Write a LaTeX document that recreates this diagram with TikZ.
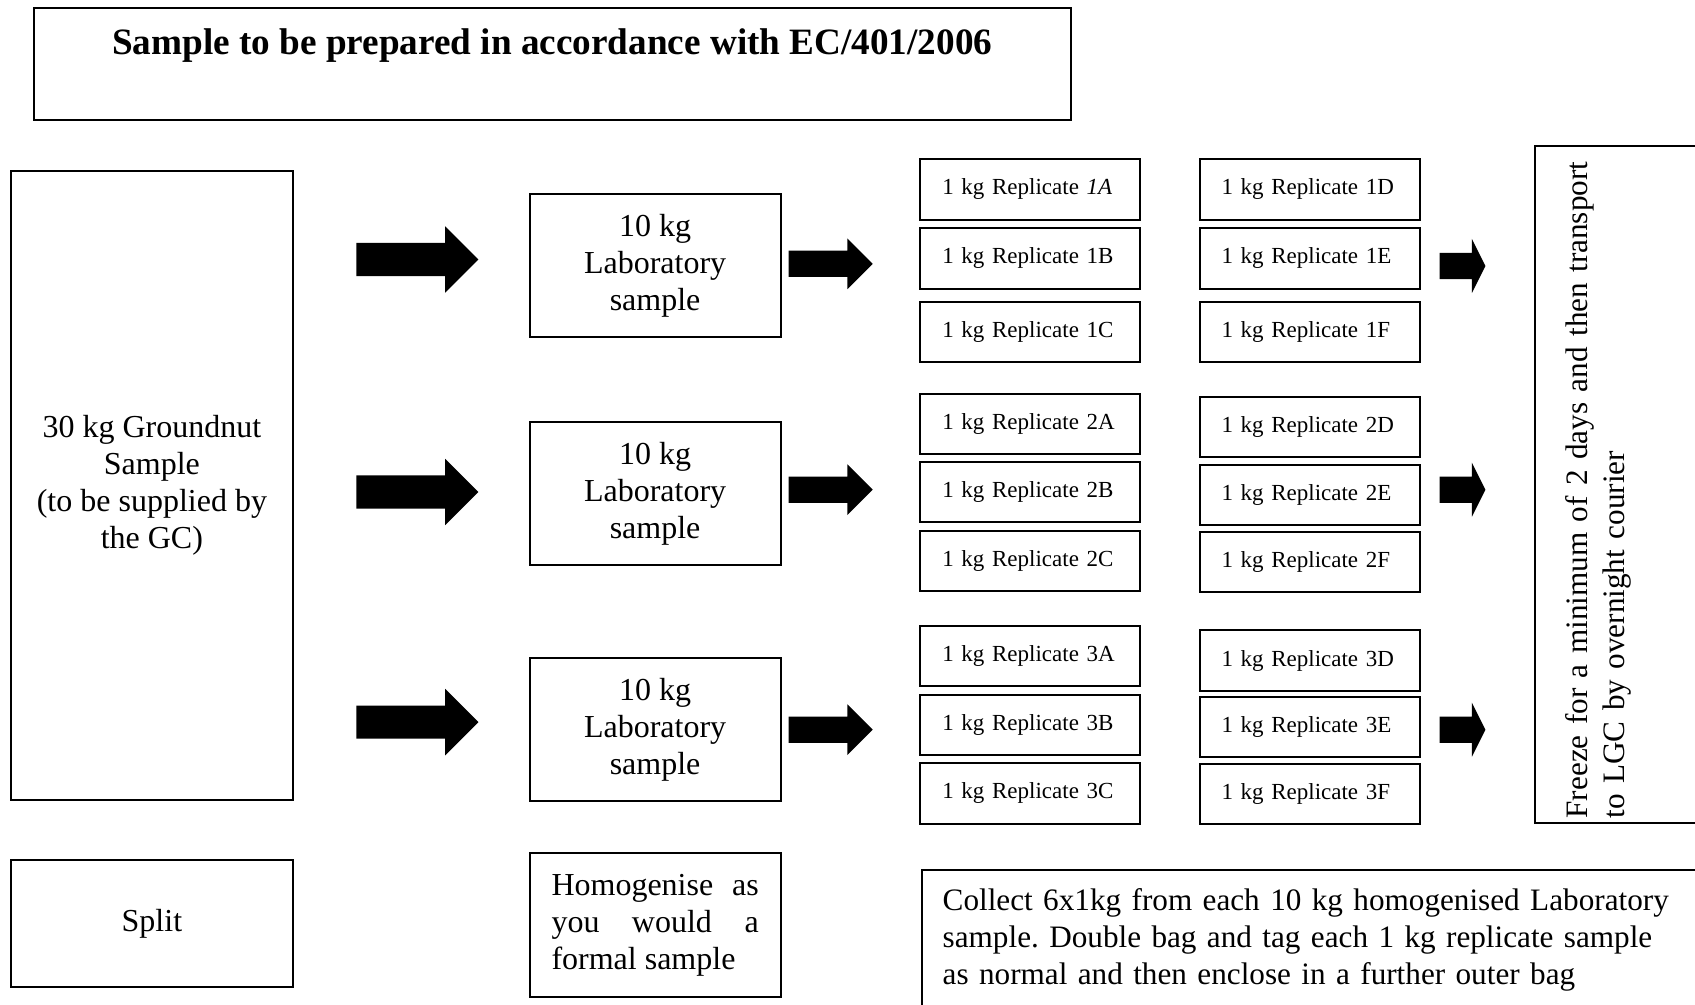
\documentclass[tikz,border=0pt]{standalone}
\usepackage{fontspec}
\setmainfont{Liberation Serif}
\usepackage{tikz}
\usetikzlibrary{positioning,shapes.arrows}
\frenchspacing
\tikzset{
  box/.style={draw,line width=1pt,align=center,inner sep=0pt,font=\fontsize{16}{18.5}\selectfont},
  labbox/.style={box,minimum width=125.4pt,minimum height=71.5pt},
  repbox/.style={draw,line width=1pt,text width=88pt,inner xsep=11pt,inner ysep=0pt,minimum height=30.25pt,align=left,font=\fontsize{11.5}{14}\selectfont},
  note/.style={draw,line width=1pt,inner ysep=0pt,align=left,font=\fontsize{15.6}{18.5}\selectfont},
  bigarrow/.style={single arrow,fill=black,inner xsep=0pt,inner ysep=8.1pt,anchor=tail,minimum height=61pt,minimum width=32.8pt,single arrow head extend=8.3pt},
  midarrow/.style={single arrow,fill=black,inner xsep=0pt,inner ysep=6.4pt,anchor=tail,minimum height=42pt,minimum width=25pt,single arrow head extend=6.1pt},
  endarrow/.style={single arrow,fill=black,inner xsep=0pt,inner ysep=6.4pt,anchor=tail,minimum height=22.85pt,minimum width=26.65pt,single arrow head extend=6.9pt,single arrow tip angle=127}
}

\begin{document}
\begin{tikzpicture}[x=0.5pt,y=-0.5pt]
  \useasboundingbox (0,0) rectangle (1695,1005);
  \clip (0,0) rectangle (1695,1005);
  \node[box,font=\fontsize{18.6}{22}\selectfont\bfseries,minimum width=518.75pt,text height=23.5pt,text depth=32.7pt] (title) at (552.3,63.8) {Sample to be prepared in accordance with EC/401/2006};
  \node[box,minimum width=141.1pt,minimum height=314.5pt] (grnd) at (151.9,485.5) {30 kg Groundnut\\Sample\\(to be supplied by\\the GC)};
  \node[box,minimum width=141.1pt,minimum height=63.5pt] (split) at (151.9,923.5) {Split};
  \node[labbox] (lab1) at (655.1,266) {10 kg\\Laboratory\\sample};
  \node[labbox] (lab2) at (655.1,493.5) {10 kg\\Laboratory\\sample};
  \node[labbox] (lab3) at (655.1,729.7) {10 kg\\Laboratory\\sample};
  \node[box,align=justify,text width=103.6pt,inner xsep=10.9pt,minimum height=72pt] (homog) at (655.1,924.9) {Homogenise as\linebreak you would a\linebreak formal sample};
  % replicates, first column
  \node[repbox] (r1a) at (1030.3,189.3) {1 kg Replicate \textit{1A}};
  \node[repbox] (r1b) at (1030.3,258.3) {1 kg Replicate 1B};
  \node[repbox] (r1c) at (1030.3,331.8) {1 kg Replicate 1C};
  \node[repbox] (r2a) at (1030.3,423.8) {1 kg Replicate 2A};
  \node[repbox] (r2b) at (1030.3,491.8) {1 kg Replicate 2B};
  \node[repbox] (r2c) at (1030.3,561) {1 kg Replicate 2C};
  \node[repbox] (r3a) at (1030.3,656.2) {1 kg Replicate 3A};
  \node[repbox] (r3b) at (1030.3,724.8) {1 kg Replicate 3B};
  \node[repbox] (r3c) at (1030.3,793.4) {1 kg Replicate 3C};
  % replicates, second column
  \node[repbox] (r1d) at (1309.5,189.3) {1 kg Replicate 1D};
  \node[repbox] (r1e) at (1309.5,258.3) {1 kg Replicate 1E};
  \node[repbox] (r1f) at (1309.5,331.8) {1 kg Replicate 1F};
  \node[repbox] (r2d) at (1309.5,427) {1 kg Replicate 2D};
  \node[repbox] (r2e) at (1309.5,495.1) {1 kg Replicate 2E};
  \node[repbox] (r2f) at (1309.5,562.2) {1 kg Replicate 2F};
  \node[repbox] (r3d) at (1309.5,660.5) {1 kg Replicate 3D};
  \node[repbox] (r3e) at (1309.5,727) {1 kg Replicate 3E};
  \node[repbox] (r3f) at (1309.5,794) {1 kg Replicate 3F};
  \node[note,rotate=90,text width=334pt,inner xsep=2.2pt,text height=26.3pt,text depth=58.7pt] (freeze) at (1620,484.4) {Freeze for a minimum of 2 days and then transport\\to LGC by overnight courier};
  \node[note,anchor=north west,text width=379pt,inner xsep=10.5pt,text height=20pt,text depth=60pt] (collect) at (920.7,869) {Collect 6x1kg from each 10 kg homogenised Laboratory\\sample. Double bag and tag each 1 kg replicate sample\\as normal and then enclose in a further outer bag};
  % block arrows
  \node[bigarrow] (split1) at (356,259.5) {};
  \node[bigarrow] (split2) at (356,492) {};
  \node[bigarrow] (split3) at (356,722.1) {};
  \node[midarrow] (take1) at (788.3,263.8) {};
  \node[midarrow] (take2) at (788.3,489.7) {};
  \node[midarrow] (take3) at (788.3,729.7) {};
  \node[endarrow] (send1) at (1439.3,266) {};
  \node[endarrow] (send2) at (1439.3,489.7) {};
  \node[endarrow] (send3) at (1439.3,729.7) {};
\end{tikzpicture}
\end{document}
